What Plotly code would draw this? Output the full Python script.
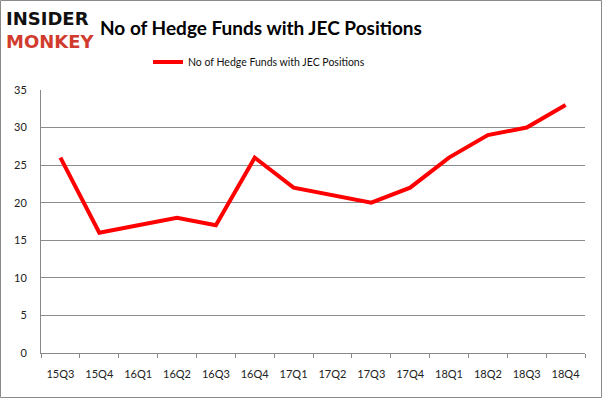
import plotly.graph_objects as go

quarters = ["15Q3", "15Q4", "16Q1", "16Q2", "16Q3", "16Q4", "17Q1", "17Q2",
            "17Q3", "17Q4", "18Q1", "18Q2", "18Q3", "18Q4"]
hedge_funds = [26, 16, 17, 18, 17, 26, 22, 21, 20, 22, 26, 29, 30, 33]
series_name = "No of Hedge Funds with JEC Positions"
y_ticks = [0, 5, 10, 15, 20, 25, 30, 35]

W, H = 602, 398
L, R, T, B = 41, 17, 90, 45
pw, ph = W - L - R, H - T - B

def px_x(x):
    return (x - L) / pw

def px_y(y):
    return (H - B - y) / ph

FONT = "Lato, Open Sans, DejaVu Sans, sans-serif"

fig = go.Figure()
fig.add_trace(go.Scatter(
    x=quarters, y=hedge_funds, mode="lines", name=series_name,
    line=dict(color="#ff0000", width=4),
))

fig.update_layout(
    width=W, height=H,
    margin=dict(l=L, r=R, t=T, b=B, autoexpand=False),
    paper_bgcolor="white", plot_bgcolor="white",
    font=dict(family=FONT, color="#222", size=11),
    showlegend=True,
    legend=dict(orientation="h", x=px_x(148), xanchor="left", y=px_y(62), yanchor="middle",
                font=dict(size=10.5, color="#111"), bgcolor="rgba(0,0,0,0)"),
    xaxis=dict(
        type="category", showgrid=False, showline=True, linecolor="#888", linewidth=1,
        ticks="outside", ticklen=4, tickcolor="#888", tickson="boundaries",
        ticklabelstandoff=11, tickangle=0,
        tickfont=dict(size=11, color="#222"), range=[-0.5, len(quarters) - 0.5],
    ),
    yaxis=dict(
        range=[0, 35], tickvals=y_ticks, showgrid=True, gridcolor="#8c8c8c", gridwidth=1,
        showline=True, linecolor="#888", linewidth=1, ticks="",
        ticklabelstandoff=11,
        tickfont=dict(size=11, color="#222"), zeroline=False,
    ),
    annotations=[
        dict(text="<b>No of Hedge Funds with JEC Positions</b>", x=px_x(261), y=px_y(27),
             xref="paper", yref="paper", showarrow=False, xanchor="center", yanchor="middle",
             font=dict(size=19, color="#000", family=FONT)),
        dict(text="<b>INSIDER</b>", x=px_x(4), y=px_y(18), xref="paper", yref="paper",
             showarrow=False, xanchor="left", yanchor="middle",
             font=dict(size=18, color="#111", family="DejaVu Sans, sans-serif")),
        dict(text="<b>MONKEY</b>", x=px_x(4), y=px_y(41), xref="paper", yref="paper",
             showarrow=False, xanchor="left", yanchor="middle",
             font=dict(size=18, color="#d13b2e", family="DejaVu Sans, sans-serif")),
    ],
    shapes=[
        dict(type="rect", xref="paper", yref="paper",
             x0=px_x(0.5), x1=px_x(601.5), y0=px_y(397.5), y1=px_y(0.5),
             line=dict(color="#8a8a8a", width=1), fillcolor="rgba(0,0,0,0)", layer="below"),
    ],
)

fig.write_html("out.html", config={"displayModeBar": False},
               post_script="document.body.style.margin='0';document.body.style.overflow='hidden';")
